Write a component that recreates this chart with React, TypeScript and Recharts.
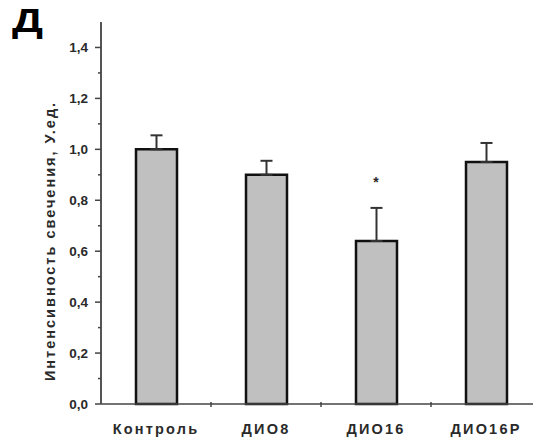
import React from "react";
import {
  ComposedChart,
  Bar,
  ErrorBar,
  XAxis,
  YAxis,
  ReferenceDot,
} from "recharts";

const groups = ["Контроль", "ДИО8", "ДИО16", "ДИО16Р"];
const means = [1.0, 0.9, 0.64, 0.95];
const errors = [0.055, 0.055, 0.13, 0.075];
const yTicks = [0, 0.1, 0.2, 0.3, 0.4, 0.5, 0.6, 0.7, 0.8, 0.9, 1.0, 1.1, 1.2, 1.3, 1.4];
const starGroup = "ДИО16";
const starValue = 0.87;

const data = groups.map((g, i) => ({
  group: g,
  mean: means[i],
  err: [0, errors[i]],
}));

const W = 541;
const H = 441;
const AXIS_W = 101;
const band = (W - AXIS_W) / groups.length;
const font = "'Liberation Sans', Arial, sans-serif";
const ink = "#2a2a2a";

function YTick(props: any) {
  const { x, y, payload } = props;
  const v = payload.value;
  const major = Math.round(v * 10) % 2 === 0;
  const axisX = x + 9;
  return (
    <g>
      <line
        x1={major ? axisX - 6 : axisX - 3}
        x2={axisX}
        y1={y}
        y2={y}
        stroke="#444"
        strokeWidth={1.5}
      />
      {major && (
        <text
          x={axisX - 13}
          y={y}
          dy={5}
          textAnchor="end"
          fontFamily={font}
          fontWeight="bold"
          fontSize={13.5}
          fill={ink}
        >
          {v.toFixed(1).replace(".", ",")}
        </text>
      )}
    </g>
  );
}

function XTick(props: any) {
  const { x, y, payload, index } = props;
  return (
    <g>
      {index > 0 && (
        <line
          x1={x - band / 2}
          x2={x - band / 2}
          y1={y - 2}
          y2={y + 3}
          stroke="#444"
          strokeWidth={1.5}
        />
      )}
      <text
        x={x}
        y={y + 30}
        textAnchor="middle"
        fontFamily={font}
        fontWeight="bold"
        fontSize={14.5}
        letterSpacing={2.2}
        fill={ink}
      >
        {payload.value}
      </text>
    </g>
  );
}

function YLabel(props: any) {
  const { viewBox } = props;
  const cx = viewBox.x + 50;
  const cy = viewBox.y + viewBox.height / 2 + 28;
  return (
    <text
      x={cx}
      y={cy}
      transform={`rotate(-90, ${cx}, ${cy})`}
      textAnchor="middle"
      dominantBaseline="central"
      fontFamily={font}
      fontWeight="bold"
      fontSize={14.5}
      letterSpacing={2}
      fill={ink}
    >
      Интенсивность свечения, У.ед.
    </text>
  );
}

export default function App() {
  return (
    <div
      style={{
        position: "absolute",
        left: 0,
        top: 0,
        width: 533,
        height: 441,
        overflow: "hidden",
        background: "#fff",
      }}
    >
      <div
        style={{
          position: "absolute",
          left: 12,
          top: 2,
          fontFamily: font,
          fontWeight: 900,
          fontSize: 34,
          lineHeight: "36px",
          color: "#000",
          transform: "scaleX(1.28)",
          transformOrigin: "left top",
        }}
      >
        Д
      </div>
      <ComposedChart
        width={W}
        height={H}
        data={data}
        margin={{ top: 22, right: 0, bottom: 7, left: 0 }}
      >
        <XAxis
          dataKey="group"
          height={30}
          tickLine={false}
          tickSize={0}
          tickMargin={0}
          tick={<XTick />}
          axisLine={{ stroke: "#444", strokeWidth: 1.5 }}
          interval={0}
        />
        <YAxis
          width={AXIS_W}
          domain={[0, 1.5]}
          ticks={yTicks}
          interval={0}
          tickLine={false}
          tickSize={6}
          tickMargin={3}
          tick={<YTick />}
          axisLine={{ stroke: "#555", strokeWidth: 2 }}
          label={<YLabel />}
        />
        <Bar
          dataKey="mean"
          barSize={41}
          fill="#c0c0c0"
          stroke="#111"
          strokeWidth={2.5}
          isAnimationActive={false}
        >
          <ErrorBar
            dataKey="err"
            direction="y"
            width={6}
            stroke="#333"
            strokeWidth={2}
            isAnimationActive={false}
          />
        </Bar>
        <ReferenceDot
          x={starGroup}
          y={starValue}
          r={0}
          stroke="none"
          label={{
            value: "*",
            position: "center",
            fontFamily: font,
            fontWeight: "bold",
            fontSize: 14,
            fill: ink,
          }}
        />
      </ComposedChart>
    </div>
  );
}
